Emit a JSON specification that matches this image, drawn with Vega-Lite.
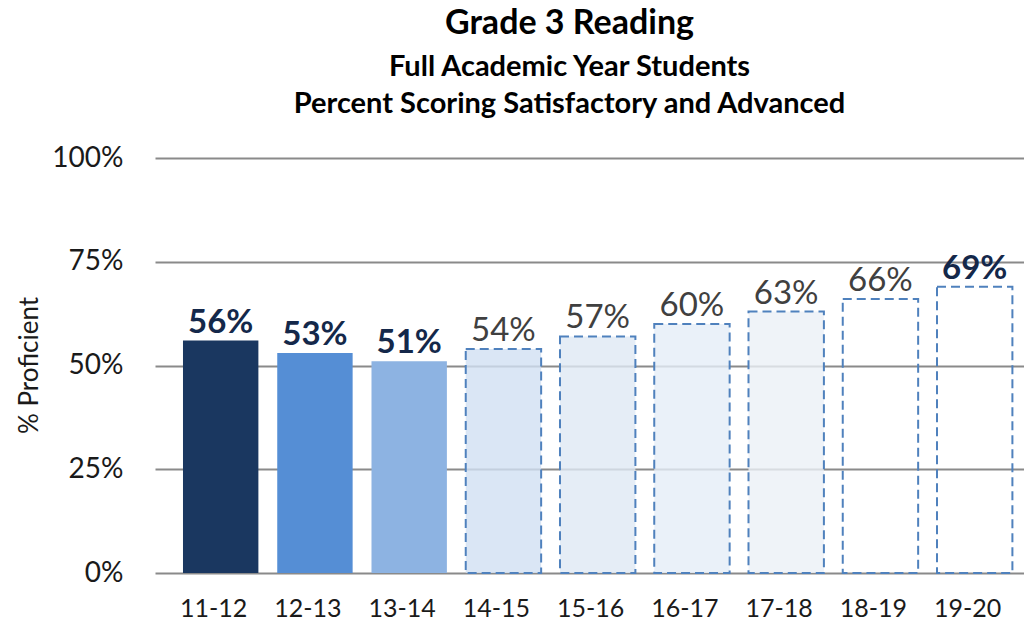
{
  "$schema": "https://vega.github.io/schema/vega-lite/v6.json",
  "autosize": "none",
  "width": 869,
  "height": 415,
  "padding": {"left": 155, "top": 158, "right": 0, "bottom": 47},
  "background": "white",
  "config": {
    "font": "Lato",
    "view": {"stroke": null}
  },
  "title": {
    "text": "Grade 3 Reading",
    "subtitle": ["Full Academic Year Students", "Percent Scoring Satisfactory and Advanced"],
    "anchor": "middle",
    "frame": "group",
    "dx": -20,
    "offset": 25,
    "font": "Lato",
    "fontSize": 34,
    "fontWeight": "bold",
    "color": "#000000",
    "subtitleFont": "Lato",
    "subtitleFontSize": 29,
    "subtitleFontWeight": "bold",
    "subtitleColor": "#000000",
    "subtitleLineHeight": 37,
    "subtitlePadding": 12
  },
  "data": {
    "values": [
      {"period": "11-12", "value": 0.56, "type": "actual"},
      {"period": "12-13", "value": 0.53, "type": "actual"},
      {"period": "13-14", "value": 0.51, "type": "actual"},
      {"period": "14-15", "value": 0.54, "type": "target"},
      {"period": "15-16", "value": 0.57, "type": "target"},
      {"period": "16-17", "value": 0.60, "type": "target"},
      {"period": "17-18", "value": 0.63, "type": "target"},
      {"period": "18-19", "value": 0.66, "type": "target"},
      {"period": "19-20", "value": 0.69, "type": "target"}
    ]
  },
  "encoding": {
    "x": {
      "field": "period",
      "type": "nominal",
      "sort": null,
      "scale": {"paddingInner": 0.2, "paddingOuter": 0.21, "align": 0.707},
      "axis": {
        "title": null,
        "labelAngle": 0,
        "labelFont": "Lato",
        "labelFontSize": 25,
        "labelColor": "#1a1a1a",
        "labelPadding": 23,
        "labelOffset": -7,
        "ticks": false,
        "tickSize": 0,
        "domain": false,
        "grid": false
      }
    },
    "y": {
      "field": "value",
      "type": "quantitative",
      "scale": {"domain": [0, 1], "nice": false},
      "axis": {
        "title": "% Proficient",
        "values": [0, 0.25, 0.5, 0.75, 1],
        "format": ".0%",
        "labelFont": "Lato",
        "labelFontSize": 28,
        "labelColor": "#1a1a1a",
        "labelPadding": 32,
        "ticks": false,
        "tickSize": 0,
        "domain": false,
        "grid": true,
        "gridColor": "#8a8a8a",
        "gridWidth": 2,
        "titleFont": "Lato",
        "titleFontSize": 26,
        "titleFontWeight": "normal",
        "titleColor": "#1a1a1a",
        "titleAngle": -90,
        "titleX": -118,
        "titleY": 207,
        "titleAlign": "center",
        "titleBaseline": "alphabetic"
      }
    }
  },
  "layer": [
    {
      "mark": {"type": "bar", "stroke": "#4f81bd"},
      "encoding": {
        "fill": {
          "field": "period",
          "type": "nominal",
          "legend": null,
          "scale": {
            "domain": ["11-12", "12-13", "13-14", "14-15", "15-16", "16-17", "17-18", "18-19", "19-20"],
            "range": ["#1a3760", "#558ed5", "#8db3e2", "#d1e0f3", "#dee8f4", "#e5edf8", "#ebf0f6", "transparent", "transparent"]
          }
        },
        "fillOpacity": {
          "field": "type",
          "type": "nominal",
          "legend": null,
          "scale": {"domain": ["actual", "target"], "range": [1, 0.8]}
        },
        "strokeWidth": {
          "field": "type",
          "type": "nominal",
          "legend": null,
          "scale": {"domain": ["actual", "target"], "range": [0, 2]}
        },
        "strokeDash": {
          "field": "type",
          "type": "nominal",
          "legend": null,
          "scale": {"domain": ["actual", "target"], "range": [[1, 0], [9, 5]]}
        }
      }
    },
    {
      "transform": [{"filter": "datum.type == 'actual' || datum.period == '19-20'"}],
      "mark": {"type": "text", "baseline": "alphabetic", "dy": -8, "fontSize": 33, "fontWeight": "bold", "color": "#14284a", "font": "Lato"},
      "encoding": {
        "text": {"field": "value", "type": "quantitative", "format": ".0%"}
      }
    },
    {
      "transform": [{"filter": "datum.type == 'target' && datum.period != '19-20'"}],
      "mark": {"type": "text", "baseline": "alphabetic", "dy": -8, "fontSize": 33, "fontWeight": "normal", "color": "#404040", "font": "Lato"},
      "encoding": {
        "text": {"field": "value", "type": "quantitative", "format": ".0%"}
      }
    }
  ]
}
